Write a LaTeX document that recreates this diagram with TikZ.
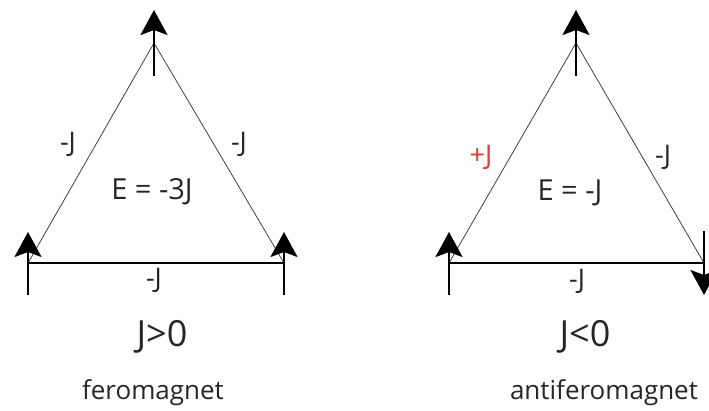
\documentclass[tikz,border=0pt]{standalone}
\usepackage{fontspec}
\setmainfont{Open Sans}
\usetikzlibrary{arrows.meta,calc}
\definecolor{ink}{HTML}{262626}
\definecolor{bondred}{HTML}{E8382F}

\begin{document}
\begin{tikzpicture}[x=1pt,y=-1pt,font=\fontsize{27}{31}\selectfont,text=ink,
 spin/.style={-{Stealth[length=25pt,width=27pt,inset=5pt]},line width=2.4pt,draw=black},
 bond/.style={line width=0.8pt,draw=black!75},
 base/.style={line width=1.3pt,draw=black},
 coupling/.style={inner sep=0pt},
 energy/.style={inner sep=0pt,font=\fontsize{29}{33}\selectfont},
 sign/.style={inner sep=0pt,font=\fontsize{36}{40}\selectfont},
 caption/.style={inner sep=0pt,font=\fontsize{26}{30}\selectfont}]
\useasboundingbox (0,0) rectangle (709,410);
% feromagnet
\coordinate (fa) at (154,43);
\coordinate (fl) at (28,263);
\coordinate (fr) at (284,263);
\draw[bond] (fl) -- (fa) -- (fr);
\draw[base] (fl) -- (fr);
\draw[spin] ($(fa)+(0,33)$) -- ($(fa)+(0,-33)$);
\draw[spin] ($(fl)+(0,32)$) -- ($(fl)+(0,-31)$);
\draw[spin] ($(fr)+(0,32)$) -- ($(fr)+(0,-31)$);
\node[coupling] (fjl) at (68,144) {-J};
\node[coupling] (fjr) at (239,144) {-J};
\node[coupling] (fjb) at (154,280) {-J};
\node[energy] (fe) at (152,192) {E = -3J};
\node[sign] (fs) at (162,337) {J>0};
\node[caption] (fc) at (153,393) {feromagnet};
% antiferomagnet
\coordinate (aa) at (576,43);
\coordinate (al) at (449,263);
\coordinate (ar) at (704,263);
\draw[bond] (al) -- (aa) -- (ar);
\draw[base] (al) -- (ar);
\draw[spin] ($(aa)+(0,33)$) -- ($(aa)+(0,-33)$);
\draw[spin] ($(al)+(0,32)$) -- ($(al)+(0,-31)$);
\draw[spin] ($(ar)+(0,-32)$) -- ($(ar)+(0,32)$);
\node[coupling,text=bondred] (ajl) at (481,157) {+J};
\node[coupling] (ajr) at (663,157) {-J};
\node[coupling] (ajb) at (577,281) {-J};
\node[energy] (ae) at (570,193) {E = -J};
\node[sign] (as) at (585,337) {J<0};
\node[caption] (ac) at (604,393) {antiferomagnet};
\end{tikzpicture}
\end{document}
